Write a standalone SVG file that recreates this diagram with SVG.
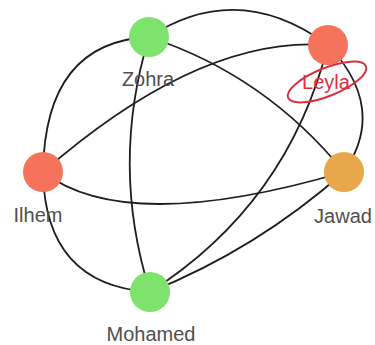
<svg xmlns="http://www.w3.org/2000/svg" width="375" height="345" viewBox="0 0 375 345">
  <style>
    .edge { fill: none; stroke: #1e1e1e; stroke-width: 1.8; }
    .lbl { font-family: "Liberation Sans", Arial, sans-serif; font-size: 20px; fill: #4f4f4f; text-anchor: middle; }
    .green { fill: #7ee36c; }
    .coral { fill: #f4735a; }
    .amber { fill: #e6a84b; }
  </style>
  <rect width="375" height="345" fill="#ffffff"/>
  <g id="connectors">
    <path class="edge" d="M149,37 Q238,-21 328,45"/>
    <path class="edge" d="M149,37 Q45,42 43,172"/>
    <path class="edge" d="M149,37 Q265,75 344,172"/>
    <path class="edge" d="M149,37 Q110,165 150,292"/>
    <path class="edge" d="M328,45 Q200,35 43,172"/>
    <path class="edge" d="M328,45 Q388,108 344,172"/>
    <path class="edge" d="M328,45 Q288,204 150,292"/>
    <path class="edge" d="M43,172 Q126,236 344,172"/>
    <path class="edge" d="M43,172 Q45,285 150,292"/>
    <path class="edge" d="M344,172 Q257,249 150,292"/>
  </g>
  <g id="node-zohra">
    <circle class="green" cx="149" cy="37" r="20"/>
    <text class="lbl" x="148" y="86">Zohra</text>
  </g>
  <g id="node-leyla">
    <circle class="coral" cx="328" cy="45" r="20"/>
    <text class="lbl" x="326" y="89" style="fill:#d9323f">Leyla</text>
    <ellipse cx="327" cy="82" rx="42" ry="14" transform="rotate(-22 327 82)" fill="none" stroke="#d9323f" stroke-width="2"/>
  </g>
  <g id="node-ilhem">
    <circle class="coral" cx="43" cy="172" r="20"/>
    <text class="lbl" x="38" y="222">Ilhem</text>
  </g>
  <g id="node-jawad">
    <circle class="amber" cx="344" cy="172" r="20"/>
    <text class="lbl" x="343" y="223">Jawad</text>
  </g>
  <g id="node-mohamed">
    <circle class="green" cx="150" cy="292" r="20"/>
    <text class="lbl" x="151" y="341">Mohamed</text>
  </g>
</svg>
